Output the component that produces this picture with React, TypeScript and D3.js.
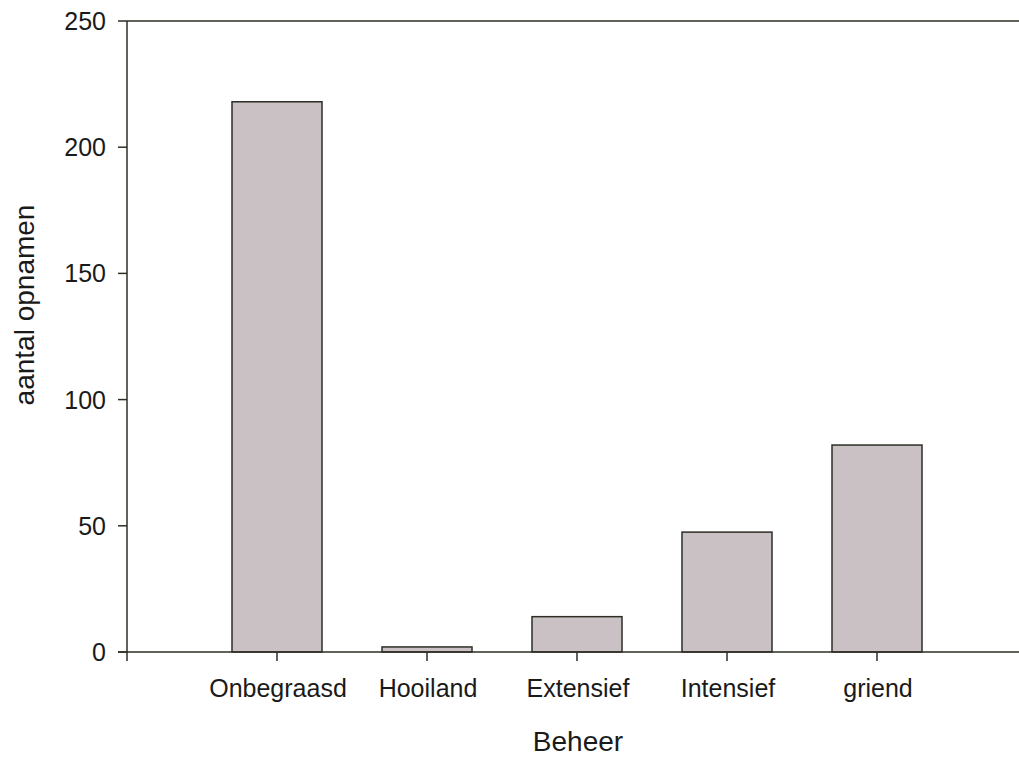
import React from "react";
import * as d3 from "d3";

const categories = ["Onbegraasd", "Hooiland", "Extensief", "Intensief", "griend"];
const values = [218, 2, 14, 47.5, 82];
const yTicks = [0, 50, 100, 150, 200, 250];

export default function App() {
  const W = 1019, H = 757;
  const x0 = 127, y0 = 652, yTop = 21;
  const y = d3.scaleLinear().domain([0, 250]).range([y0, yTop]);
  const x = d3.scaleBand<string>().domain(categories).range([202, 952]).paddingInner(0.4).paddingOuter(0.2);
  const font = "Arial, 'Liberation Sans', sans-serif";
  const stroke = "#2e2e26";
  const txt = "#1a1a1a";
  return (
    <svg width={W} height={H} style={{ position: "absolute", left: 0, top: 0, background: "#fff" }} fontFamily={font}>
      {categories.map((c, i) => (
        <rect key={c} x={x(c)} y={y(values[i])} width={x.bandwidth()} height={y0 - y(values[i])}
          fill="#c9c1c4" stroke={stroke} strokeWidth={1.5} />
      ))}
      <line x1={x0} x2={W} y1={yTop} y2={yTop} stroke={stroke} strokeWidth={1.5} />
      <line x1={x0 - 9} x2={W} y1={y0} y2={y0} stroke={stroke} strokeWidth={1.5} />
      <line x1={x0} x2={x0} y1={yTop} y2={y0 + 9} stroke={stroke} strokeWidth={1.5} />
      {yTicks.map(t => (
        <g key={t}>
          <line x1={x0 - 9} x2={x0} y1={y(t)} y2={y(t)} stroke={stroke} strokeWidth={1.5} />
          <text x={106} y={y(t) + 9} textAnchor="end" fontSize={25} fill={txt}>{t}</text>
        </g>
      ))}
      {categories.map(c => {
        const cx = (x(c) ?? 0) + x.bandwidth() / 2;
        return (
          <g key={c}>
            <line x1={cx} x2={cx} y1={y0} y2={y0 + 9} stroke={stroke} strokeWidth={1.5} />
            <text x={cx + 1} y={697} textAnchor="middle" fontSize={25} fill={txt}>{c}</text>
          </g>
        );
      })}
      <text x={578} y={751} textAnchor="middle" fontSize={28} fill={txt}>Beheer</text>
      <text transform={`translate(34,305) rotate(-90)`} textAnchor="middle" fontSize={28} fill={txt}>aantal opnamen</text>
    </svg>
  );
}
